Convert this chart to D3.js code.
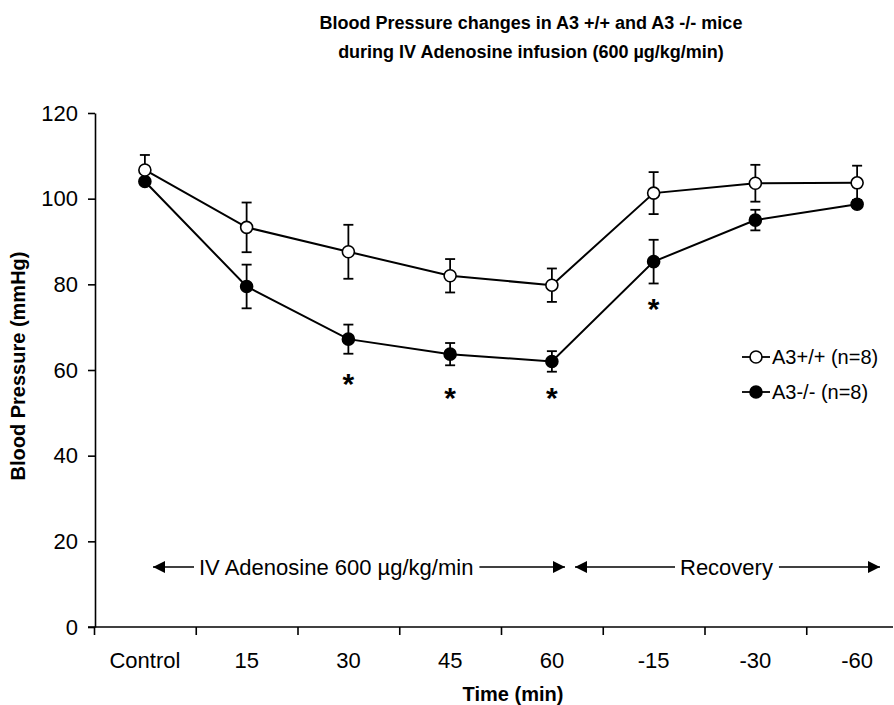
<!DOCTYPE html>
<html>
<head>
<meta charset="utf-8">
<script src="https://cdn.jsdelivr.net/npm/d3@7"></script>
<style>
  body { margin: 0; background: #fff; }
  text { font-family: Arial, "Liberation Sans", sans-serif; fill: #000; }
</style>
</head>
<body>
<script>
var w = 894, h = 705;

// categories on the x axis
var times = ["Control", "15", "30", "45", "60", "-15", "-30", "-60"];
// A3+/+ mean and SEM
var wildMean = [106.7, 93.3, 87.6, 82.0, 79.8, 101.3, 103.6, 103.7];
var wildErr = [3.5, 5.8, 6.3, 3.9, 3.9, 4.9, 4.3, 4.0];
// A3-/- mean and SEM
var koMean = [104.0, 79.5, 67.2, 63.7, 62.0, 85.3, 95.0, 98.7];
var koErr = [0.8, 5.1, 3.4, 2.6, 2.4, 5.1, 2.4, 0.8];
// significance stars (category, y value)
var stars = [["30", 58.1], ["45", 54.9], ["60", 54.9], ["-15", 75.6]];
var yTicks = [0, 20, 40, 60, 80, 100, 120];

var xScale = d3.scaleBand()
    .domain(times)
    .range([94, 908]);
var yScale = d3.scaleLinear()
    .domain([0, 120])
    .range([627, 113]);

function cx(d) { return xScale(d) + xScale.bandwidth() / 2; }

var svg = d3.select("body")
    .append("svg")
    .attr("width", w)
    .attr("height", h);

svg.append("defs").selectAll("marker")
    .data(["head"])
    .enter()
    .append("marker")
    .attr("id", "head")
    .attr("viewBox", "0 0 10 10")
    .attr("refX", 10)
    .attr("refY", 5)
    .attr("markerUnits", "userSpaceOnUse")
    .attr("markerWidth", 13)
    .attr("markerHeight", 12)
    .attr("orient", "auto-start-reverse")
    .append("path")
    .attr("d", "M0,0L10,5L0,10z")
    .attr("fill", "#000");

// title
svg.append("text")
    .attr("x", 531).attr("y", 29)
    .attr("text-anchor", "middle")
    .style("font-size", "18px").style("font-weight", "bold")
    .text("Blood Pressure changes in A3 +/+ and A3 -/- mice");
svg.append("text")
    .attr("x", 531).attr("y", 58)
    .attr("text-anchor", "middle")
    .style("font-size", "18px").style("font-weight", "bold")
    .text("during IV Adenosine infusion (600 \u00b5g/kg/min)");

// y axis
var yAxis = svg.append("g")
    .attr("transform", "translate(95,0)")
    .call(d3.axisLeft(yScale).tickValues(yTicks).tickSize(7).tickSizeOuter(0).tickPadding(10));
yAxis.selectAll("text").style("font-size", "22px").attr("font-family", null);
yAxis.selectAll("line, path").attr("stroke", "#000").attr("stroke-width", 1.6);

// x axis: labels centred in bands, ticks at band edges
var xAxis = svg.append("g")
    .attr("transform", "translate(0,627)")
    .call(d3.axisBottom(xScale).tickSize(0).tickPadding(25));
xAxis.select(".domain").remove();
xAxis.selectAll("text").style("font-size", "22px").attr("font-family", null);
svg.append("line")
    .attr("x1", 88).attr("x2", 893)
    .attr("y1", 627).attr("y2", 627)
    .attr("stroke", "#000").attr("stroke-width", 1.6);
svg.selectAll(".edgeTick")
    .data(times)
    .enter()
    .append("line")
    .attr("class", "edgeTick")
    .attr("x1", function (d) { return xScale(d) + 0.5; })
    .attr("x2", function (d) { return xScale(d) + 0.5; })
    .attr("y1", 627).attr("y2", 635)
    .attr("stroke", "#000").attr("stroke-width", 1.6);

svg.append("text")
    .attr("x", 513).attr("y", 701)
    .attr("text-anchor", "middle")
    .style("font-size", "20px").style("font-weight", "bold")
    .text("Time (min)");
svg.append("text")
    .attr("transform", "translate(25,366) rotate(-90)")
    .attr("text-anchor", "middle")
    .style("font-size", "20px").style("font-weight", "bold")
    .text("Blood Pressure (mmHg)");

// series
var series = [
    { mean: wildMean, err: wildErr, fill: "#fff" },
    { mean: koMean, err: koErr, fill: "#000" }
];
var line = d3.line()
    .x(function (d) { return cx(d.t); })
    .y(function (d) { return yScale(d.v); });

series.forEach(function (s) {
    var pts = times.map(function (t, i) { return { t: t, v: s.mean[i], e: s.err[i] }; });
    s.pts = pts;
    svg.append("path")
        .datum(pts)
        .attr("d", line)
        .attr("fill", "none")
        .attr("stroke", "#000")
        .attr("stroke-width", 2);
    var eb = svg.append("g").attr("stroke", "#000").attr("stroke-width", 1.8);
    eb.selectAll(".bar").data(pts).enter().append("line")
        .attr("x1", function (d) { return cx(d.t); })
        .attr("x2", function (d) { return cx(d.t); })
        .attr("y1", function (d) { return yScale(d.v - d.e); })
        .attr("y2", function (d) { return yScale(d.v + d.e); });
    eb.selectAll(".capTop").data(pts).enter().append("line")
        .attr("x1", function (d) { return cx(d.t) - 5; })
        .attr("x2", function (d) { return cx(d.t) + 5; })
        .attr("y1", function (d) { return yScale(d.v + d.e); })
        .attr("y2", function (d) { return yScale(d.v + d.e); });
    eb.selectAll(".capBot").data(pts).enter().append("line")
        .attr("x1", function (d) { return cx(d.t) - 5; })
        .attr("x2", function (d) { return cx(d.t) + 5; })
        .attr("y1", function (d) { return yScale(d.v - d.e); })
        .attr("y2", function (d) { return yScale(d.v - d.e); });
});
// filled first, open on top
[series[1], series[0]].forEach(function (s) {
    svg.append("g").selectAll("circle")
        .data(s.pts)
        .enter()
        .append("circle")
        .attr("cx", function (d) { return cx(d.t); })
        .attr("cy", function (d) { return yScale(d.v); })
        .attr("r", 6)
        .attr("fill", s.fill)
        .attr("stroke", "#000")
        .attr("stroke-width", 1.6);
});

// stars
svg.selectAll(".star")
    .data(stars)
    .enter()
    .append("text")
    .attr("class", "star")
    .attr("x", function (d) { return cx(d[0]); })
    .attr("y", function (d) { return yScale(d[1]) + 16; })
    .attr("text-anchor", "middle")
    .style("font-size", "30px").style("font-weight", "bold")
    .text("*");

// legend
var legend = [
    { label: "A3+/+ (n=8)", fill: "#fff", y: 357 },
    { label: "A3-/- (n=8)", fill: "#000", y: 392 }
];
legend.forEach(function (l) {
    svg.append("line")
        .attr("x1", 742).attr("x2", 770)
        .attr("y1", l.y).attr("y2", l.y)
        .attr("stroke", "#000").attr("stroke-width", 1.8);
    svg.append("circle")
        .attr("cx", 756).attr("cy", l.y).attr("r", 6)
        .attr("fill", l.fill).attr("stroke", "#000").attr("stroke-width", 1.6);
    svg.append("text")
        .attr("x", 772).attr("y", l.y + 7)
        .style("font-size", "20px")
        .text(l.label);
});

// period annotations
var annY = yScale(14);
function period(x0, x1, label, tx) {
    var t = svg.append("text")
        .attr("x", tx).attr("y", annY + 8)
        .style("font-size", "22px")
        .text(label);
    var len = t.node().getComputedTextLength();
    svg.append("line")
        .attr("x1", tx - 5).attr("x2", x0)
        .attr("y1", annY).attr("y2", annY)
        .attr("stroke", "#000").attr("stroke-width", 1.5)
        .attr("marker-end", "url(#head)");
    svg.append("line")
        .attr("x1", tx + len + 6).attr("x2", x1)
        .attr("y1", annY).attr("y2", annY)
        .attr("stroke", "#000").attr("stroke-width", 1.5)
        .attr("marker-end", "url(#head)");
}
period(153, 565, "IV Adenosine 600 \u00b5g/kg/min", 199);
period(575, 880, "Recovery", 680);
</script>
</body>
</html>
